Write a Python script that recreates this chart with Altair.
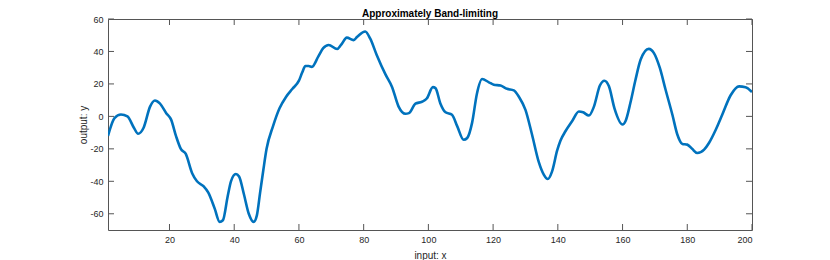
import altair as alt
import pandas as pd

xs = [1, 3, 5, 7, 9, 10.3, 12, 14, 15.5, 17, 19, 20.5, 22, 23.5, 25, 27, 28.5, 30.5, 32, 34,
      35.5, 36.5, 38, 39, 40.5, 41.5, 43, 44.5, 46, 47, 48, 49, 50, 52, 54, 56, 58, 60, 61, 62,
      63, 64, 66, 67.5, 69.2, 71.8, 73, 74.8, 76.9, 78, 80.5, 82, 84, 86.7, 88.8, 90.8, 92.9, 94,
      96, 98, 99.5, 101.4, 102.2, 103.7, 105.3, 107.3, 108.9, 110.9, 112, 113.5, 115, 116.6,
      118.7, 120.2, 122.3, 124.3, 126.4, 128, 130, 132, 134.1, 135.7, 136.9, 138.2, 139.8,
      140.8, 142.4, 144.4, 146.5, 147.8, 149.6, 151.1, 153, 154.4, 155.8, 157.5, 160, 160.9,
      162.5, 164, 165.6, 168.1, 169.7, 171.5, 173.3, 175.4, 176.9, 178.5, 180, 181.5, 183.1,
      185.2, 186.7, 188.8, 190.8, 193.4, 196, 198, 200]
ys = [-12, -1, 1.2, 0, -7, -10.7, -7, 6, 9.8, 8, 2, -2, -12, -20, -23, -35, -40, -43, -47, -57,
      -65, -64, -49, -40, -35.5, -37, -48, -60, -65, -61, -47, -33, -20, -6, 5, 12, 17, 22, 27, 31,
      31, 30.5, 37, 42, 44, 41.5, 44, 48.5, 47, 49, 52.3, 48, 38, 26, 18, 6, 1.6, 2,
      7.8, 9, 11, 18, 17.4, 8, 2.5, 1, -6, -14.4, -13.3, -4, 14, 23,
      21, 19.5, 19, 17, 16, 12, 4, -11, -28, -36, -38.6, -34, -21,
      -15, -9, -3, 3, 2.5, 0.5, 5.7, 19, 22, 18.5, 5, -5, -3,
      9, 22.6, 35, 41.6, 39, 30, 16.4, 1, -11, -17, -17.4, -20, -22.6,
      -20.5, -16.4, -8.2, 1, 13, 18.5, 18, 15]

x_ticks = [20, 40, 60, 80, 100, 120, 140, 160, 180, 200]
y_ticks = [-60, -40, -20, 0, 20, 40, 60]
x_domain = [1, 200]
y_domain = [-70, 60]

W, H = 644, 211
tick_px = 6
ty = tick_px * (y_domain[1] - y_domain[0]) / H
tx = tick_px * (x_domain[1] - x_domain[0]) / W

df = pd.DataFrame({"x": xs, "y": ys})

rows = []
for t in x_ticks:
    rows.append({"x": t, "x2": t, "y": y_domain[0], "y2": y_domain[0] + ty})
    rows.append({"x": t, "x2": t, "y": y_domain[1], "y2": y_domain[1] - ty})
for t in y_ticks:
    rows.append({"x": x_domain[0], "x2": x_domain[0] + tx, "y": t, "y2": t})
    rows.append({"x": x_domain[1], "x2": x_domain[1] - tx, "y": t, "y2": t})
tdf = pd.DataFrame(rows)

font = "Liberation Sans"
xscale = alt.Scale(domain=x_domain, nice=False, zero=False)
yscale = alt.Scale(domain=y_domain, nice=False, zero=False)

common = dict(tickSize=0, grid=False, domain=False, labelOverlap=False,
              labelFont=font, labelFontSize=9, labelColor="#262626",
              titleFont=font, titleFontSize=10, titleFontWeight="normal",
              titleColor="#262626", labelExpr="'' + datum.value")
x_axis = alt.Axis(values=x_ticks, labelPadding=5, titlePadding=6, **common)
y_axis = alt.Axis(values=y_ticks, labelPadding=5, titlePadding=1, **common)

line = alt.Chart(df).mark_line(color="#0072BD", strokeWidth=2.6, interpolate="monotone", clip=True).encode(
    x=alt.X("x:Q", scale=xscale, title="input: x", axis=x_axis),
    y=alt.Y("y:Q", scale=yscale, title="output: y", axis=y_axis),
)

ticks = alt.Chart(tdf).mark_rule(color="#555555", strokeWidth=1).encode(
    x=alt.X("x:Q", scale=xscale, title="input: x", axis=x_axis), x2="x2:Q",
    y=alt.Y("y:Q", scale=yscale, title="output: y", axis=y_axis), y2="y2:Q",
)

chart = alt.layer(line, ticks).properties(
    width=W, height=H,
    title=alt.TitleParams("Approximately Band-limiting", font=font, fontSize=10,
                          fontWeight="bold", color="#000000", offset=-4),
    autosize=alt.AutoSizeParams(type="none"),
    padding={"left": 100, "top": 11, "right": 70, "bottom": 30},
).configure_view(stroke="#555555", strokeWidth=1).configure_axis(labelOverlap=False)

chart.save("out.html", embed_options={"renderer": "svg", "actions": False})
